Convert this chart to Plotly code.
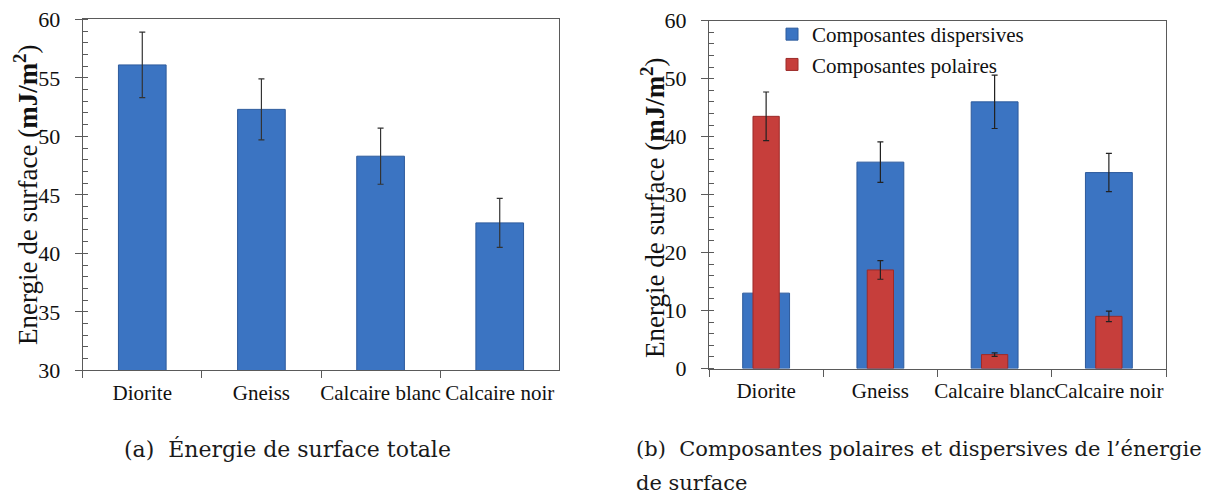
import plotly.graph_objects as go

# ---------------- data ----------------
categories = ["Diorite", "Gneiss", "Calcaire blanc", "Calcaire noir"]

total_energy = [56.1, 52.3, 48.3, 42.6]
total_energy_err = [2.8, 2.6, 2.4, 2.1]

dispersive = [13.0, 35.6, 46.0, 33.8]
dispersive_err = [None, 3.5, 4.6, 3.3]   # Diorite error bar not visible in the reference

polar = [43.5, 17.0, 2.4, 9.0]
polar_err = [4.2, 1.6, 0.3, 0.9]

left_ticks = [30, 35, 40, 45, 50, 55, 60]
right_ticks = [0, 10, 20, 30, 40, 50, 60]

# ---------------- style ----------------
PAGE_W, PAGE_H = 1230, 495
OFF = 8                      # default body margin of the html page
W, H = PAGE_W - OFF, PAGE_H - OFF

def px(x):
    return (x - OFF) / W

def py(y):
    return 1 - (y - OFF) / H

BLUE = "#3b74c2"
BLUE_EDGE = "#2d5a9c"
RED = "#c63e3b"
RED_EDGE = "#9c2b29"
AXIS = "#5a5a5a"
SERIF = "'Liberation Serif', 'Times New Roman', serif"
CAP = "'DejaVu Serif', serif"

fig = go.Figure()

fig.add_trace(go.Bar(
    x=categories, y=total_energy, width=0.40,
    marker=dict(color=BLUE, line=dict(color=BLUE_EDGE, width=1)),
    error_y=dict(type="data", array=total_energy_err, color="#333333", thickness=1.2, width=3),
    xaxis="x", yaxis="y", showlegend=False,
))

fig.add_trace(go.Bar(
    x=categories, y=dispersive, width=0.41, name="Composantes dispersives",
    marker=dict(color=BLUE, line=dict(color=BLUE_EDGE, width=1)),
    error_y=dict(type="data", array=dispersive_err, color="#222222", thickness=1.2, width=3),
    xaxis="x2", yaxis="y2",
))

fig.add_trace(go.Bar(
    x=categories, y=polar, width=0.23, name="Composantes polaires",
    marker=dict(color=RED, line=dict(color=RED_EDGE, width=1)),
    error_y=dict(type="data", array=polar_err, color="#222222", thickness=1.2, width=3),
    xaxis="x2", yaxis="y2",
))

def xax(domain, anchor):
    return dict(
        domain=domain, anchor=anchor, type="category",
        showline=True, linecolor=AXIS, linewidth=1, mirror=True,
        ticks="outside", tickson="boundaries", ticklen=7, tickcolor=AXIS,
        showgrid=False, zeroline=False, tickangle=0, automargin=False,
        tickfont=dict(family=SERIF, size=21, color="#111111"),
        ticklabelstandoff=3, ticklabeloverflow="allow",
        fixedrange=True,
    )

def yax(domain, anchor, rng, tickvals, minor_dtick):
    return dict(
        domain=domain, anchor=anchor, range=rng,
        tickvals=tickvals,
        showline=True, linecolor=AXIS, linewidth=1, mirror=True,
        ticks="outside", ticklen=7, tickcolor=AXIS,
        minor=dict(dtick=minor_dtick, ticks="inside", ticklen=5, tickcolor=AXIS, showgrid=False),
        showgrid=False, zeroline=False, automargin=False,
        tickfont=dict(family=SERIF, size=22, color="#111111"),
        ticklabelstandoff=10, ticklabeloverflow="allow",
        fixedrange=True,
    )

xl = [px(82.7), px(559.3)]
yl = [py(370.3), py(19.3)]
xr = [px(709), px(1166)]
yr = [py(368.5), py(20.7)]

fig.update_layout(
    width=W, height=H,
    margin=dict(l=0, r=0, t=0, b=0, autoexpand=False),
    paper_bgcolor="white", plot_bgcolor="white",
    barmode="overlay",
    xaxis=xax(xl, "y"),
    yaxis=yax(yl, "x", [30, 60], left_ticks, 1),
    xaxis2=xax(xr, "y2"),
    yaxis2=yax(yr, "x2", [0, 60], right_ticks, 2),
    legend=dict(
        x=px(772), y=py(14), xanchor="left", yanchor="top",
        bgcolor="rgba(0,0,0,0)", font=dict(family=SERIF, size=21, color="#111111"),
        itemwidth=30, tracegroupgap=0,
    ),
    showlegend=True,
)

ytitle = "Energie de surface (<b>mJ/m<sup>2</sup></b>)"
fig.add_annotation(text=ytitle, textangle=-90, x=px(26), y=py(195),
                   xref="paper", yref="paper", xanchor="center", yanchor="middle",
                   showarrow=False, font=dict(family=SERIF, size=27, color="#111111"))
fig.add_annotation(text=ytitle, textangle=-90, x=px(653), y=py(208),
                   xref="paper", yref="paper", xanchor="center", yanchor="middle",
                   showarrow=False, font=dict(family=SERIF, size=27, color="#111111"))

fig.add_annotation(text="(a)  Énergie de surface totale", x=px(287), y=py(449),
                   xref="paper", yref="paper", xanchor="center", yanchor="middle",
                   showarrow=False, font=dict(family=CAP, size=22, color="#1a1a1a"))
fig.add_annotation(text="(b)  Composantes polaires et dispersives de l’énergie", x=px(634), y=py(449),
                   xref="paper", yref="paper", xanchor="left", yanchor="middle",
                   showarrow=False, font=dict(family=CAP, size=21, color="#1a1a1a"))
fig.add_annotation(text="de surface", x=px(634), y=py(483),
                   xref="paper", yref="paper", xanchor="left", yanchor="middle",
                   showarrow=False, font=dict(family=CAP, size=21, color="#1a1a1a"))

fig.write_html("out.html")
